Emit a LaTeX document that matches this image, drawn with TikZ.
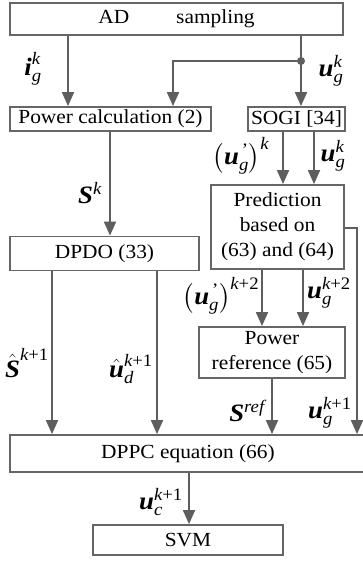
\documentclass[tikz,border=0pt]{standalone}
\usepackage{amsmath}
\usepackage{fontspec}
\setmainfont{Liberation Serif}[FakeStretch=1.07]
\usetikzlibrary{arrows.meta,calc}
\newcommand{\bvec}[1]{\text{\bfseries\itshape #1}}
\newcommand{\ivar}[1]{\text{\itshape #1}}
\definecolor{linegray}{HTML}{5E5E5E}
\definecolor{boxgray}{HTML}{666666}
\begin{document}
\begin{tikzpicture}[x=1pt,y=-1pt,
  box/.style={draw=boxgray,line width=1.8pt,inner sep=0pt,font=\fontsize{20}{25}\selectfont,align=center},
  conn/.style={draw=linegray,line width=1.8pt,-{Triangle[length=14pt,width=12pt]}},
  wire/.style={draw=linegray,line width=1.8pt},
  lbl/.style={font=\fontsize{25}{30}\selectfont,inner sep=0pt}]
\useasboundingbox (0,0) rectangle (362,561);
% boxes
\node[box,minimum width=333pt,minimum height=32pt] (ad) at (176.5,19) {AD\hspace{47pt}sampling};
\node[box,minimum width=201pt,minimum height=24pt] (pc) at (110.5,119) {Power calculation (2)};
\node[box,minimum width=97pt,minimum height=24pt] (sogi) at (296.5,119) {SOGI [34]};
\node[box,minimum width=189pt,minimum height=34pt] (dpdo) at (104.5,253.5) {DPDO (33)};
\node[box,minimum width=133pt,minimum height=84pt] (pred) at (277.5,227) {Prediction\\based on\\(63) and (64)};
\node[box,minimum width=146pt,minimum height=51pt] (pref) at (272,352.5) {Power\\reference (65)};
\node[box,minimum width=360pt,minimum height=37pt,anchor=west] (dppc) at (9,453.5) {};
\node[lbl,font=\fontsize{20}{25}\selectfont] (dppct) at (188,453.5) {DPPC equation (66)};
\node[box,minimum width=190pt,minimum height=30pt] (svm) at (188,540) {SVM};
% coordinates
\coordinate (xi) at (68,0);
\coordinate (xu) at (301,0);
\coordinate (dot) at (301,61);
\coordinate (xb) at (173,0);
\coordinate (xs) at (110,0);
\coordinate (xs1) at (283,0);
\coordinate (xs2) at (314,0);
\coordinate (xp1) at (262,0);
\coordinate (xp2) at (303,0);
\coordinate (xd1) at (52,0);
\coordinate (xd2) at (157,0);
\coordinate (xr) at (272,0);
\coordinate (xrt) at (357,228);
\coordinate (xo) at (189,0);
% connectors
\draw[conn] (ad.south -| xi) -- (pc.north -| xi);
\draw[conn] (ad.south -| xu) -- (sogi.north -| xu);
\fill[linegray] (dot) circle (4pt);
\draw[conn] (dot) -| (pc.north -| xb);
\draw[conn] (pc.south -| xs) -- (dpdo.north -| xs);
\draw[conn] (sogi.south -| xs1) -- (pred.north -| xs1);
\draw[conn] (sogi.south -| xs2) -- (pred.north -| xs2);
\draw[conn] (pred.south -| xp1) -- (pref.north -| xp1);
\draw[conn] (pred.south -| xp2) -- (pref.north -| xp2);
\draw[conn] (pred.east |- xrt) -- (xrt) -- (dppc.north -| xrt);
\draw[conn] (dpdo.south -| xd1) -- (dppc.north -| xd1);
\draw[conn] (dpdo.south -| xd2) -- (dppc.north -| xd2);
\draw[conn] (pref.south -| xr) -- (dppc.north -| xr);
\draw[conn] (dppc.south -| xo) -- (svm.north -| xo);
% labels
\node[lbl] (l1) at (33,69) {$\bvec{i}_{\ivar{g}}^{\ivar{k}}$};
\node[lbl] (l2) at (331,71) {$\bvec{u}_{\ivar{g}}^{\ivar{k}}$};
\node[lbl] (l3) at (90,193) {$\bvec{S}^{\ivar{k}}$};
\node[lbl] (l4) at (241,156) {$\left(\bvec{u}_{\ivar{g}}^{\,\text{'}}\right)^{\ivar{k}}$};
\node[lbl] (l5) at (333,156) {$\bvec{u}_{\ivar{g}}^{\ivar{k}}$};
\node[lbl] (l6) at (221,296) {$\left(\bvec{u}_{\ivar{g}}^{\,\text{'}}\right)^{\ivar{k}\text{+2}}$};
\node[lbl] (l7) at (329,293) {$\bvec{u}_{\ivar{g}}^{\ivar{k}\text{+2}}$};
\node[lbl] (l8) at (27,363) {$\hat{\bvec{S}}^{\ivar{k}\text{+1}}$};
\node[lbl] (l9) at (131,369) {$\hat{\bvec{u}}_{\ivar{d}}^{\ivar{k}\text{+1}}$};
\node[lbl] (l10) at (247,411) {$\bvec{S}^{\ivar{ref}}$};
\node[lbl] (l11) at (330,413) {$\bvec{u}_{\ivar{g}}^{\ivar{k}\text{+1}}$};
\node[lbl] (l12) at (161,502) {$\bvec{u}_{\ivar{c}}^{\ivar{k}\text{+1}}$};
\end{tikzpicture}
\end{document}
